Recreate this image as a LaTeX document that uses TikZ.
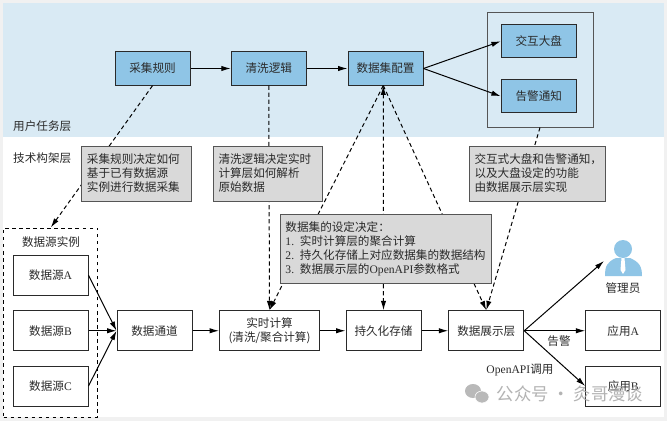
\documentclass[tikz,border=0pt]{standalone}
\usepackage{fontspec}
\usepackage{xcolor}
\usetikzlibrary{arrows.meta}
\setmainfont{Noto Sans CJK SC}
\newfontfamily\lat{Liberation Serif}
\definecolor{layerblue}{HTML}{D9EAF4}
\definecolor{boxblue}{HTML}{8FC5E6}
\definecolor{notegray}{HTML}{D9D9D9}
\definecolor{edgegray}{HTML}{F1F1F1}
\definecolor{inkgray}{HTML}{2A2A2A}
\tikzset{
  txt/.style={font=\fontsize{9.9}{12}\selectfont,text=inkgray,inner sep=0pt},
  bluebox/.style={txt,draw=inkgray,line width=0.85pt,fill=boxblue,minimum width=2.25cm,minimum height=1cm},
  flowbox/.style={txt,draw=inkgray,line width=0.85pt,fill=white,align=center,minimum width=2.25cm,minimum height=1.2cm},
  notebox/.style={txt,draw=inkgray!80,line width=0.85pt,fill=notegray,align=left,inner xsep=0.165cm,minimum height=1.65cm},
  solidline/.style={->,>={Latex[length=8pt,width=4.5pt]},line width=0.85pt,draw=black},
  dashline/.style={solidline,dash pattern=on 3.5pt off 2.5pt}
}
\begin{document}
\begin{tikzpicture}[x=0.03cm,y=-0.03cm]
\useasboundingbox (0,0) rectangle (667,421);
\fill[edgegray] (0,0) rectangle (667,421);
\fill[white] (3,137) rectangle (664,417);
\fill[layerblue] (3,3) rectangle (664,137);
\node[txt,anchor=west] (userlayer) at (13,126) {用户任务层};
\node[txt,anchor=west] (techlayer) at (13,158) {技术构架层};
\node[bluebox] (rule) at (152.5,68.5) {采集规则};
\node[bluebox] (clean) at (268.75,68.5) {清洗逻辑};
\node[bluebox] (cfg) at (385.5,68.5) {数据集配置};
\node[draw=inkgray!80,line width=0.85pt,minimum width=3.18cm,minimum height=3.42cm,inner sep=0pt] (outer) at (540,70) {};
\node[bluebox] (board) at (538.75,41.25) {交互大盘};
\node[bluebox] (alarm) at (538.75,96.25) {告警通知};
\node[draw=black,line width=0.85pt,dashed,minimum width=2.83cm,minimum height=5.67cm,inner sep=0pt] (inst) at (50.75,322.5) {};
\node[txt] (instlabel) at (51,242) {数据源实例};
\node[flowbox] (srca) at (50.5,275.25) {数据源{\lat A}};
\node[flowbox] (srcb) at (50.5,330.75) {数据源{\lat B}};
\node[flowbox] (srcc) at (50.5,386) {数据源{\lat C}};
\node[flowbox] (pipe) at (154.5,330.75) {数据通道};
\node[flowbox,minimum width=3cm] (calc) at (269.5,330.75) {实时计算\\(清洗/聚合计算)};
\node[flowbox] (store) at (383.5,330.75) {持久化存储};
\node[flowbox] (show) at (486.25,330.75) {数据展示层};
\node[flowbox] (appa) at (623.25,330.75) {应用{\lat A}};
\node[flowbox] (appb) at (623.25,386) {应用{\lat B}};
\coordinate (cfgin) at (383.3,85.5);
\coordinate (admin) at (604,261);
\draw [solidline](rule)--(clean);
\draw [solidline](clean)--(cfg);
\draw [solidline](cfg.east)--(board.west);
\draw [solidline](cfg.east)--(alarm.west);
\draw [solidline](srca.east)--(pipe.west);
\draw [solidline](srcb.east)--(pipe.west);
\draw [solidline](srcc.east)--(pipe.west);
\draw [solidline](pipe)--(calc);
\draw [solidline](calc)--(store);
\draw [solidline](store)--(show);
\draw [solidline](show.east)--(admin);
\draw [solidline](show.east)--(appa.west);
\draw [solidline](show.east)--(appb.west);
\draw [dashline](rule.south)--(inst.north);
\draw [dashline](clean.south)--(calc.north);
\draw [dashline](cfgin)--(calc.north);
\draw [dashline,<->](cfgin)--(store.north);
\draw [dashline](cfgin)--(show.north);
\draw [dashline](outer.south)--(show.north);
\node[notebox,text width=2.955cm] (note1) at (136.25,173.5) {采集规则决定如何\\基于已有数据源\\实例进行数据采集};
\node[notebox,text width=2.955cm] (note2) at (267.75,173.5) {清洗逻辑决定实时\\计算层如何解析\\原始数据};
\node[notebox,text width=3.75cm] (note3) at (537,173.5) {交互式大盘和告警通知，\\以及大盘设定的功能\\由数据展示层实现};
\node[notebox,text width=6cm,minimum height=2.085cm] (note4) at (385.5,248.75) {数据集的设定决定：\\{\lat 1.} 实时计算层的聚合计算\\\makebox[6cm][l]{{\lat 2.} 持久化存储上对应数据集的数据结构}\\{\lat 3.} 数据展示层的{\lat OpenAPI}参数格式};
\fill[boxblue] (623,249) circle[radius=9];
\fill[boxblue] (605,276) .. controls (605,266) and (607,262) .. (616,258) -- (630,258) .. controls (639,262) and (642,266) .. (642,276) -- cycle;
\fill[white] (621.5,258) -- (624.5,258) -- (625.5,270) -- (623,274) -- (620.5,270) -- cycle;
\node[txt] (adminlabel) at (623,288) {管理员};
\node[txt] (alarmlabel) at (559,341) {告警};
\node[txt] (apilabel) at (520,370) {{\lat OpenAPI}调用};
\fill[gray!55] (473,391) ellipse[x radius=8,y radius=7];
\fill[gray!55,draw=white,line width=0.5pt] (482,397) ellipse[x radius=7,y radius=6];
\node[txt,font=\fontsize{14.8}{16}\selectfont,text=gray!70,opacity=0.85] (mark) at (570,394) {公众号 · 灸哥漫谈};
\end{tikzpicture}
\end{document}
